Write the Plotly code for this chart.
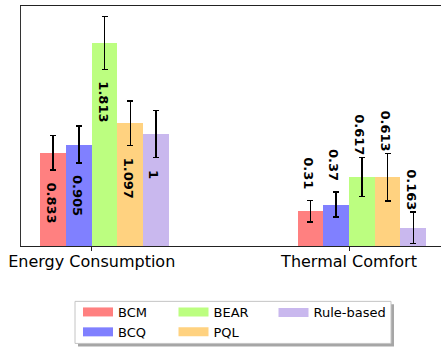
import plotly.graph_objects as go

categories = ["Energy Consumption", "Thermal Comfort"]
methods = ["BCM", "BCQ", "BEAR", "PQL", "Rule-based"]
values = {
    "BCM": [0.833, 0.31],
    "BCQ": [0.905, 0.37],
    "BEAR": [1.813, 0.617],
    "PQL": [1.097, 0.613],
    "Rule-based": [1.0, 0.163],
}
errors = {
    "BCM": [0.155, 0.095],
    "BCQ": [0.166, 0.112],
    "BEAR": [0.236, 0.173],
    "PQL": [0.199, 0.213],
    "Rule-based": [0.21, 0.14],
}
colors = {
    "BCM": "#ff8080",
    "BCQ": "#8080ff",
    "BEAR": "#bcfe80",
    "PQL": "#ffd280",
    "Rule-based": "#c9b8ee",
}
label_inside = [True, False]
legend_group = {"BCM": "legend", "BCQ": "legend", "BEAR": "legend2",
                "PQL": "legend2", "Rule-based": "legend3"}

W = 0.1
FONT = "DejaVu Sans"

fig = go.Figure()
annotations = []
for i, m in enumerate(methods):
    off = -0.15 + W * i
    xs = [j + off for j in range(len(categories))]
    fig.add_trace(go.Bar(
        x=xs, y=values[m], width=W, name=m, showlegend=False,
        marker=dict(color=colors[m], line=dict(width=0)),
        error_y=dict(type="data", array=errors[m], color="black",
                     thickness=1.6, width=3),
    ))
    fig.add_trace(go.Scatter(
        x=[None], y=[None], mode="lines", name=m,
        line=dict(color=colors[m], width=9), legend=legend_group[m],
    ))
    for j in range(len(categories)):
        v = values[m][j]
        e = errors[m][j]
        inside = label_inside[j]
        annotations.append(dict(
            x=xs[j], y=(v - e) if inside else (v + e), xref="x", yref="y",
            text=f"{v:g}", showarrow=False, textangle=90,
            yanchor="top", xanchor="center",
            yshift=-10 if inside else 45, xshift=-2,
            font=dict(family=FONT, size=13, color="black", weight="bold"),
        ))

fig.update_layout(
    width=441, height=347,
    margin=dict(l=21, r=0, t=6, b=101.3),
    plot_bgcolor="white", paper_bgcolor="white",
    bargap=0, barmode="overlay",
    font=dict(family=FONT, color="black"),
    annotations=annotations,
    xaxis=dict(range=[-0.275, 1.3576], tickvals=list(range(len(categories))),
               ticktext=categories, showline=True, mirror=True,
               linecolor="#222", linewidth=1.2, ticks="outside", ticklen=4,
               tickcolor="#222", tickwidth=1, showgrid=False, zeroline=False,
               ticklabelstandoff=-3,
               tickfont=dict(size=16, family=FONT, color="black")),
    yaxis=dict(range=[0, 2.144], showline=True, linecolor="#333", linewidth=1.2,
               showticklabels=False, ticks="", showgrid=False, zeroline=False),
    shapes=[
        dict(type="rect", xref="paper", yref="paper",
             x0=(78 - 21) / 420, x1=(394 - 21) / 420,
             y0=(245.7 - 346) / 239.7, y1=(245.7 - 304) / 239.7,
             fillcolor="rgba(0,0,0,0.35)", line=dict(width=0), layer="above"),
        dict(type="rect", xref="paper", yref="paper",
             x0=(75 - 21) / 420, x1=(391 - 21) / 420,
             y0=(245.7 - 343) / 239.7, y1=(245.7 - 301) / 239.7,
             fillcolor="white", line=dict(color="#c4c4c4", width=1), layer="above"),
    ],
)
leg_common = dict(yanchor="top", xanchor="left", bgcolor="rgba(0,0,0,0)",
                  borderwidth=0, orientation="v", tracegroupgap=0,
                  font=dict(family=FONT, size=13, color="black"))
ytop = (245.7 - 297.1) / 239.7
fig.update_layout(
    legend=dict(x=(78 - 21) / 420, y=ytop, **leg_common),
    legend2=dict(x=(173.5 - 21) / 420, y=ytop, **leg_common),
    legend3=dict(x=(273.5 - 21) / 420, y=ytop, **leg_common),
)

fig.write_html("out.html")
